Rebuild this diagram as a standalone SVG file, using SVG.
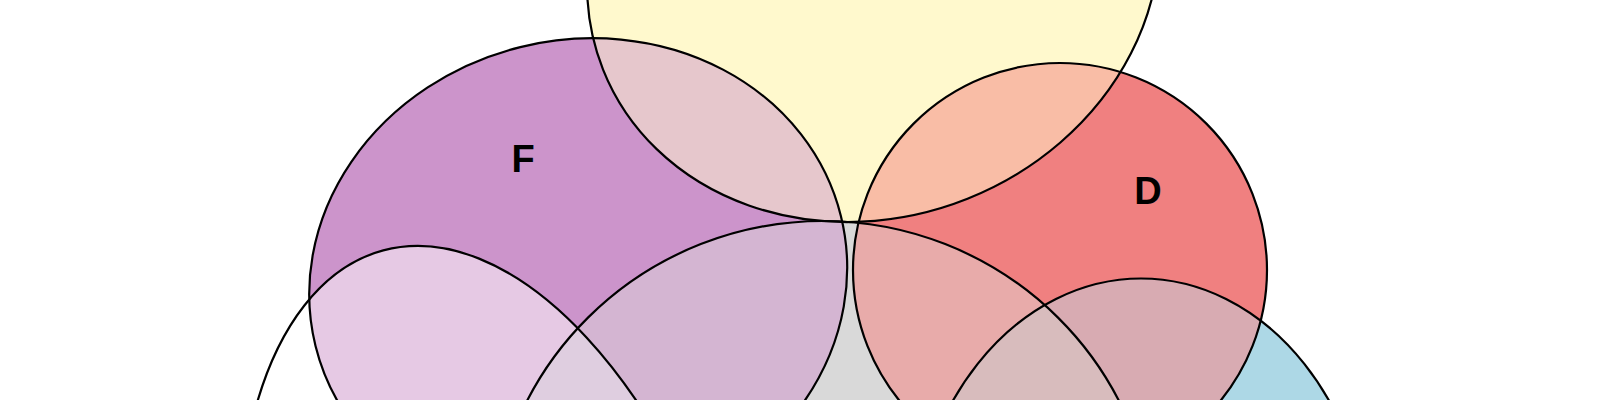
<svg xmlns="http://www.w3.org/2000/svg" width="1600" height="400" viewBox="0 0 1600 400">
<style>
.outline{fill:none;stroke:#000;stroke-width:2.2}
.label{font-family:"Liberation Sans",Arial,sans-serif;font-weight:bold;font-size:38px;fill:#000;text-anchor:middle}
</style>
<defs>
<ellipse id="eY" cx="873.3" cy="-38" rx="290.85" ry="254.8" transform="rotate(-21.7 873.3 -38)"/>
<ellipse id="eF" cx="578.2" cy="281" rx="270.6" ry="241" transform="rotate(-13.9 578.2 281)"/>
<circle id="eD" cx="1060" cy="270" r="207"/>
<ellipse id="eB" cx="1141" cy="570" rx="231" ry="291.5"/>
<ellipse id="eG" cx="823" cy="550" rx="332" ry="329"/>
<ellipse id="eW" cx="504" cy="701" rx="466.5" ry="245.8" transform="rotate(75 504 701)"/>
<clipPath id="cY"><use href="#eY"/></clipPath>
<clipPath id="cF"><use href="#eF"/></clipPath>
<clipPath id="cD"><use href="#eD"/></clipPath>
<clipPath id="cB"><use href="#eB"/></clipPath>
<clipPath id="cG"><use href="#eG"/></clipPath>
<clipPath id="cW"><use href="#eW"/></clipPath>
</defs>
<rect width="1600" height="400" fill="#ffffff"/>
<g id="regions">
<use href="#eW" fill="#ffffff"/>
<use href="#eG" fill="#d9d9d9"/>
<use href="#eB" fill="#add8e6"/>
<use href="#eD" fill="#f08080"/>
<use href="#eF" fill="#cc94cb"/>
<use href="#eY" fill="#fff9cd"/>
<g clip-path="url(#cY)"><use href="#eG" fill="#ece9d3"/></g>
<g clip-path="url(#cF)"><use href="#eY" fill="#e6c7cc"/></g>
<g clip-path="url(#cD)"><use href="#eY" fill="#f9bda6"/></g>
<g clip-path="url(#cF)"><use href="#eW" fill="#e6c9e4"/></g>
<g clip-path="url(#cF)"><use href="#eG" fill="#d4b5d2"/></g>
<g clip-path="url(#cG)"><use href="#eW" fill="#ececec"/></g>
<g clip-path="url(#cG)"><use href="#eB" fill="#c3d8dd"/></g>
<g clip-path="url(#cD)"><use href="#eG" fill="#e8abaa"/></g>
<g clip-path="url(#cD)"><use href="#eB" fill="#d8abb2"/></g>
<g clip-path="url(#cF)"><g clip-path="url(#cG)"><use href="#eW" fill="#dfcee0"/></g></g>
<g clip-path="url(#cD)"><g clip-path="url(#cG)"><use href="#eB" fill="#d8bcbd"/></g></g>
</g>
<g id="connectors"/>
<g id="set-W"><use href="#eW" class="outline"/></g>
<g id="set-G"><use href="#eG" class="outline"/></g>
<g id="set-B"><use href="#eB" class="outline"/></g>
<g id="set-Y"><use href="#eY" class="outline"/></g>
<g id="set-F"><use href="#eF" class="outline"/><text class="label" x="523" y="172">F</text></g>
<g id="set-D"><use href="#eD" class="outline"/><text class="label" x="1148" y="204">D</text></g>
</svg>
